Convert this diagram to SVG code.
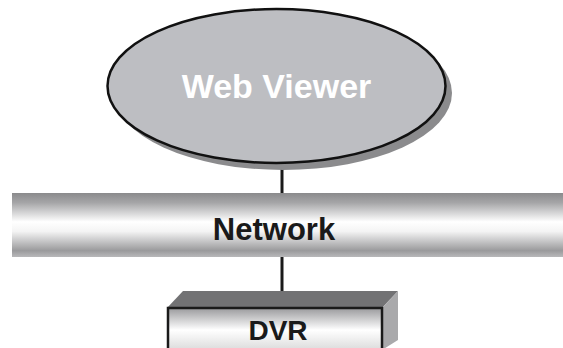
<svg xmlns="http://www.w3.org/2000/svg" width="563" height="348" viewBox="0 0 563 348">
<defs>
<linearGradient id="bar" x1="0" y1="0" x2="0" y2="1">
<stop offset="0" stop-color="#8a8a8c"/>
<stop offset="0.15" stop-color="#a5a5a7"/>
<stop offset="0.45" stop-color="#ffffff"/>
<stop offset="0.6" stop-color="#f4f4f4"/>
<stop offset="0.9" stop-color="#9a9a9c"/>
<stop offset="1" stop-color="#b8b8ba"/>
</linearGradient>
<linearGradient id="front" x1="0" y1="0" x2="0" y2="1">
<stop offset="0" stop-color="#9a9a9c"/>
<stop offset="0.5" stop-color="#ffffff"/>
<stop offset="1" stop-color="#d8d8d8"/>
</linearGradient>
<style>
.lbl{font-family:"Liberation Sans",Arial,sans-serif;font-weight:bold;text-anchor:middle}
.conn{stroke:#1a1a1a;stroke-width:3;fill:none}
</style>
</defs>
<g id="connectors">
<line class="conn" x1="282" y1="160" x2="282" y2="194"/>
<line class="conn" x1="282" y1="256" x2="282" y2="292"/>
</g>
<g id="web-viewer">
<ellipse cx="283" cy="93" rx="169" ry="77" fill="#8b8b8d"/>
<ellipse cx="276.5" cy="86" rx="169" ry="77" fill="#bdbec2" stroke="#111" stroke-width="2.5"/>
<text class="lbl" x="276.5" y="98" font-size="34" fill="#ffffff">Web Viewer</text>
</g>
<g id="network">
<rect x="12" y="193" width="551" height="64" fill="url(#bar)"/>
<text class="lbl" x="274" y="240" font-size="31" fill="#1a1a1a">Network</text>
</g>
<g id="dvr">
<polygon points="167,308 183,291 398,291 382,308" fill="#727274"/>
<polygon points="382,308 398,291 398,340 382,350" fill="#a9a9ab"/>
<rect x="168" y="308" width="214" height="44" fill="url(#front)" stroke="#1a1a1a" stroke-width="2.5"/>
<text class="lbl" x="278" y="340" font-size="28" fill="#1a1a1a">DVR</text>
</g>
</svg>
